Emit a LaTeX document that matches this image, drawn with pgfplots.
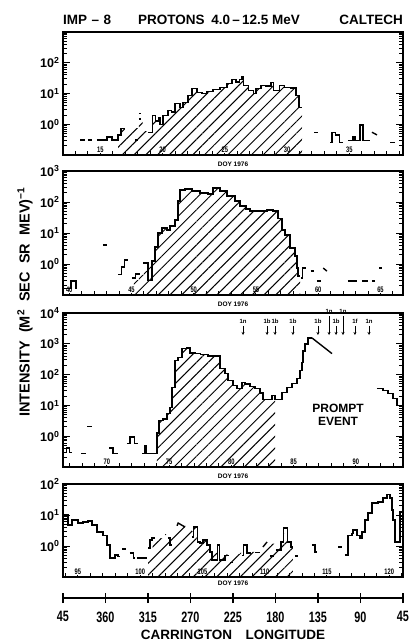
\documentclass[border=0pt]{standalone}
\usepackage{pgfplots}
\pgfplotsset{compat=1.18}
\usepackage{fontspec}
\setmainfont{Liberation Sans}
\newfontfamily\narrow{Liberation Sans}[FakeStretch=0.72]
\usetikzlibrary{patterns.meta,arrows.meta}

\pgfplotsset{
  mypanel/.style={
    scale only axis, width=340pt, ymin=0.1,
    /pgf/number format/assume math mode=true,
    axis line style={line width=1.6pt},
    xtick pos=left, ytick pos=both, yticklabel pos=left,
    tick align=inside,
    major tick length=7pt, minor tick length=4pt,
    tick style={black, line width=1pt},
    xticklabel style={font=\narrow\fontsize{8}{8}\selectfont\bfseries, anchor=south, fill=white, inner sep=1pt, yshift=1.5pt},
    yticklabel style={font=\fontsize{12.5}{13}\selectfont\bfseries},
    xlabel={DOY 1976},
    xlabel style={font=\fontsize{6.5}{7}\selectfont\bfseries, at={(axis description cs:0.5,0)}, anchor=center, yshift=-9pt},
    clip=false,
  },
  myhatch/.style={draw=none, const plot, pattern={Lines[angle=45,distance=8.3pt,line width=1pt]}, pattern color=black},
  mycurve/.style={const plot, line width=1.4pt, black},
  myseg/.style={sharp plot, line width=1.4pt, black},
}
\tikzset{flab/.style={font=\fontsize{6}{6}\selectfont\bfseries, inner sep=0pt},
  farr/.style={line width=0.8pt,-{Stealth[length=3pt,width=3pt]}}}

\begin{document}
\begin{tikzpicture}[x=1pt,y=1pt]
\useasboundingbox (0pt,0pt) rectangle (411pt,-641pt);

% ---------------- Panel 1 ----------------
\begin{semilogyaxis}[mypanel, at={(63pt,-155pt)}, anchor=south west, height=123pt,
  xmin=12.0, xmax=39.31, ymax=1000,
  xtick={15,20,25,30,35}, minor xtick={13,...,39},
  ytick={0.1,1,10,100,1000},
  yticklabels={,10\textsuperscript{0},10\textsuperscript{1},10\textsuperscript{2},}]
\addplot[myhatch] coordinates {(16.42,0.1)(16.42,0.45)(16.66,0.74)(16.98,0.6)(17.5,0.75)(18.1,1.5)(18.4,0.6)(18.85,0.55)(19.2,1.95)(19.45,1.26)(19.65,1.6)(19.8,1.0)(20.03,1.95)(20.43,2.8)(20.7,2.5)(21.0,4.8)(21.4,3.5)(21.64,5.1)(22.04,8.7)(22.36,14.5)(22.76,10.7)(23.16,10)(23.57,11.5)(24.05,13.5)(24.61,15.5)(25.17,21)(25.57,28)(25.9,24)(26.2,28)(26.38,35.5)(26.5,18.2)(26.9,12.6)(27.3,10)(27.5,14.5)(27.9,18.2)(28.3,17.8)(28.7,22.4)(28.9,12.6)(29.4,18.2)(29.8,15.8)(30.3,15)(30.7,8.7)(30.95,3.5)(31.2,3.5)(31.2,0.1)};
\addplot[mycurve] coordinates {(13.37,0.31)(13.77,0.31)};
\addplot[mycurve] coordinates {(14.0,0.31)(14.3,0.31)};
\addplot[mycurve] coordinates {(14.73,0.31)(15.53,0.38)(15.94,0.31)(16.42,0.45)(16.66,0.74)(16.98,0.74)};
\addplot[mycurve] coordinates {(17.78,0.31)(18.02,0.31)};
\addplot[mycurve] coordinates {(18.1,2.2)(18.3,2.2)};
\addplot[mycurve] coordinates {(18.1,1.5)(18.3,1.5)};
\addplot[mycurve] coordinates {(18.85,0.55)(19.2,1.95)(19.45,1.26)(19.65,1.6)(19.8,1.0)(20.03,1.95)(20.43,2.8)(20.7,2.5)(21.0,4.8)(21.4,3.5)(21.64,5.1)(22.04,8.7)(22.36,14.5)(22.76,10.7)(23.16,10)(23.57,11.5)(24.05,13.5)(24.61,15.5)(25.17,21)(25.57,28)(25.9,24)(26.2,28)(26.38,35.5)(26.5,18.2)(26.9,12.6)(27.3,10)(27.5,14.5)(27.9,18.2)(28.3,17.8)(28.7,22.4)(28.9,12.6)(29.4,18.2)(29.8,15.8)(30.3,15)(30.7,8.7)(30.95,3.5)(31.2,3.5)};
\addplot[mycurve] coordinates {(32.2,0.55)(32.45,0.55)};
\addplot[mycurve] coordinates {(33.45,0.26)(33.6,0.55)(33.9,0.45)(34.2,0.26)(34.49,0.26)};
\addplot[mycurve] coordinates {(34.89,0.3)(35.29,0.38)(35.45,0.3)(35.86,0.95)(36.1,0.3)(36.66,0.3)};
\addplot[myseg] coordinates {(36.82,0.55)(37.22,0.45)};
\addplot[mycurve] coordinates {(38.27,0.26)(38.67,0.26)};
\end{semilogyaxis}

% ---------------- Panel 2 ----------------
\begin{semilogyaxis}[mypanel, at={(63pt,-295pt)}, anchor=south west, height=124pt,
  xmin=39.5, xmax=66.81, ymax=1000,
  xtick={40,45,50,55,60,65}, minor xtick={40,...,66},
  ytick={0.1,1,10,100,1000},
  yticklabels={,10\textsuperscript{0},10\textsuperscript{1},10\textsuperscript{2},10\textsuperscript{3}}]
\addplot[myhatch] coordinates {(45.2,0.1)(45.2,0.3)(45.6,0.45)(46.0,0.6)(46.33,0.9)(46.65,1.26)(46.89,3.5)(47.13,10)(47.45,14.5)(47.85,12.6)(48.09,17)(48.5,26)(48.74,107)(48.9,245)(49.3,263)(49.86,224)(50.5,195)(51.15,182)(51.55,282)(52.11,224)(52.67,155)(53.32,107)(53.72,74)(54.2,59)(54.52,51)(55.32,51)(55.89,55)(56.37,51)(56.77,30)(57.09,12.6)(57.33,8.7)(57.73,3.3)(58.13,1.8)(58.3,0.74)(58.38,0.41)(58.54,0.41)(58.54,0.1)};
\addplot[mycurve] coordinates {(39.55,0.16)(40.15,0.28)(40.55,0.16)(40.62,0.16)};
\addplot[mycurve] coordinates {(42.71,4.1)(43.03,4.1)};
\addplot[mycurve] coordinates {(43.92,0.45)(44.2,0.8)(44.45,1.35)(44.72,1.35)};
\addplot[mycurve] coordinates {(45.04,0.35)(45.3,0.48)(45.68,0.48)};
\addplot[mycurve] coordinates {(45.93,1.07)(46.33,0.3)(46.65,1.26)(46.89,3.5)(47.13,10)(47.45,14.5)(47.85,12.6)(48.09,17)(48.5,26)(48.74,107)(48.9,245)(49.3,263)(49.86,224)(50.5,195)(51.15,182)(51.55,282)(52.11,224)(52.67,155)(53.32,107)(53.72,74)(54.2,59)(54.52,51)(55.32,51)(55.89,55)(56.37,51)(56.77,30)(57.09,12.6)(57.33,8.7)(57.73,3.3)(58.13,1.8)(58.3,0.74)(58.38,0.41)(58.54,0.41)};
\addplot[mycurve] coordinates {(58.6,0.35)(58.75,0.74)(59.0,0.74)};
\addplot[mycurve] coordinates {(59.4,0.59)(59.7,0.59)};
\addplot[mycurve] coordinates {(59.9,0.28)(60.2,0.28)};
\addplot[myseg] coordinates {(60.4,0.74)(60.7,0.59)};
\addplot[mycurve] coordinates {(62.39,0.28)(63.1,0.28)};
\addplot[mycurve] coordinates {(63.5,0.28)(64.0,0.28)};
\addplot[mycurve] coordinates {(64.3,0.28)(64.56,0.28)};
\addplot[mycurve] coordinates {(64.9,0.74)(65.1,0.74)};
\end{semilogyaxis}

% ---------------- Panel 3 ----------------
\begin{semilogyaxis}[mypanel, at={(63pt,-467pt)}, anchor=south west, height=154pt,
  xmin=66.47, xmax=93.78, ymax=10000,
  xtick={70,75,80,85,90}, minor xtick={67,...,93},
  ytick={0.1,1,10,100,1000,10000},
  yticklabels={,10\textsuperscript{0},10\textsuperscript{1},10\textsuperscript{2},10\textsuperscript{3},10\textsuperscript{4}}]
\addplot[myhatch] coordinates {(74.02,0.1)(74.02,1.26)(74.18,3.3)(74.5,3.6)(74.82,5.5)(75.06,8.7)(75.22,38)(75.47,282)(75.71,355)(76.03,690)(76.43,740)(76.67,510)(77.07,480)(77.5,440)(78.12,407)(78.52,407)(79.08,155)(79.48,107)(79.72,65)(80.12,45)(80.45,35)(80.85,55)(81.09,50)(81.49,41)(81.89,35)(82.29,25)(82.53,15.5)(83.1,15.5)(83.26,21)(83.5,21)(83.5,0.1)};
\addplot[mycurve] coordinates {(66.47,0.3)(66.75,0.42)(67.0,0.3)(67.2,0.3)};
\addplot[mycurve] coordinates {(67.92,0.28)(68.32,0.28)};
\addplot[mycurve] coordinates {(68.4,2.1)(68.8,2.1)};
\addplot[mycurve] coordinates {(70.17,0.41)(70.5,0.28)(70.89,0.28)};
\addplot[mycurve] coordinates {(71.61,0.59)(71.85,0.93)(72.2,0.59)(72.5,0.59)};
\addplot[mycurve] coordinates {(72.82,0.28)(73.0,0.51)(73.15,0.28)(74.02,1.26)(74.18,3.3)(74.5,3.6)(74.82,5.5)(75.06,8.7)(75.22,38)(75.47,282)(75.71,355)(76.03,690)(76.43,740)(76.67,510)(77.07,480)(77.5,440)(78.12,407)(78.52,407)(79.08,155)(79.48,107)(79.72,65)(80.12,45)(80.45,35)(80.85,55)(81.09,50)(81.49,41)(81.89,35)(82.29,25)(82.53,15.5)(83.1,15.5)(83.26,21)(83.5,15.5)(83.82,15.5)(84.06,26)(84.46,38)(84.86,51)(85.27,74)(85.51,135)(85.67,245)(85.75,590)(85.91,1000)(86.15,1550)(86.47,1550)};
\addplot[myseg] coordinates {(86.47,1550)(88.08,480)};
\addplot[mycurve] coordinates {(91.69,35.5)(92.17,30)(92.57,24.5)(92.98,17)(93.3,10)(93.78,10)};
% flare annotations
\node[flab] at (axis cs:80.93,5500) {1n};
\draw[farr] (axis cs:80.93,3790) -- (axis cs:80.93,1930);
\node[flab] at (axis cs:82.86,5500) {1b};
\draw[farr] (axis cs:82.86,3790) -- (axis cs:82.86,1930);
\node[flab] at (axis cs:83.5,5500) {1b};
\draw[farr] (axis cs:83.5,3790) -- (axis cs:83.5,1930);
\node[flab] at (axis cs:84.94,5500) {1b};
\draw[farr] (axis cs:84.94,3790) -- (axis cs:84.94,1930);
\node[flab] at (axis cs:86.95,5500) {1b};
\draw[farr] (axis cs:86.95,3790) -- (axis cs:86.95,1930);
\node[flab] at (axis cs:88.4,5500) {1b};
\draw[farr] (axis cs:88.4,3790) -- (axis cs:88.4,1930);
\node[flab] at (axis cs:89.92,5500) {1f};
\draw[farr] (axis cs:89.92,3790) -- (axis cs:89.92,1930);
\node[flab] at (axis cs:91.05,5500) {1n};
\draw[farr] (axis cs:91.05,3790) -- (axis cs:91.05,1930);
\node[flab] at (axis cs:87.84,11600) {1n};
\draw[farr] (axis cs:87.84,7900) -- (axis cs:87.84,1930);
\node[flab] at (axis cs:88.96,11600) {1n};
\draw[farr] (axis cs:88.96,7900) -- (axis cs:88.96,1930);
\node[font=\fontsize{12}{13}\selectfont\bfseries, align=center, inner sep=0pt] at (axis cs:88.56,4.9) {PROMPT\\EVENT};
\end{semilogyaxis}

% ---------------- Panel 4 ----------------
\begin{semilogyaxis}[mypanel, at={(63pt,-577pt)}, anchor=south west, height=93pt,
  xmin=93.8, xmax=121.11, ymax=100,
  xtick={95,100,105,110,115,120}, minor xtick={94,...,121},
  ytick={0.1,1,10,100},
  yticklabels={,10\textsuperscript{0},10\textsuperscript{1},10\textsuperscript{2}},
  xlabel style={yshift=3pt}]
\addplot[myhatch] coordinates {(100.63,0.1)(100.63,0.6)(101.0,1.5)(101.5,1.8)(102.0,2.4)(102.5,3.0)(103.0,5.0)(103.6,4.0)(104.16,3.0)(104.3,4.1)(104.6,1.35)(104.8,1.26)(105.05,1.55)(105.37,1.07)(105.61,0.65)(105.77,0.6)(106.5,0.55)(107.0,0.5)(107.5,0.55)(108.0,0.6)(108.5,0.6)(109.0,0.65)(109.5,0.75)(110.0,1.0)(110.5,1.2)(110.9,1.0)(111.3,1.35)(111.5,2.5)(111.85,1.35)(112.1,0.93)(112.27,0.93)(112.27,0.1)};
\addplot[mycurve] coordinates {(93.8,10)(94.2,4.8)(94.52,6.9)(95.0,5.5)(95.41,5.9)(95.81,6.5)(96.13,4.8)(96.53,2.8)(97.01,2.2)(97.33,1.07)(97.58,0.41)(97.98,0.51)(98.22,0.45)(98.38,0.45)};
\addplot[mycurve] coordinates {(98.54,0.8)(98.86,0.8)};
\addplot[mycurve] coordinates {(99.18,0.59)(99.45,0.41)(99.58,0.41)};
\addplot[mycurve] coordinates {(99.74,0.41)(100.55,0.41)};
\addplot[mycurve] coordinates {(100.63,0.87)(100.8,1.55)(100.95,1.82)(101.2,1.82)};
\addplot[mycurve] coordinates {(102.23,1.82)(102.4,1.07)(102.56,1.07)};
\addplot[myseg] coordinates {(102.96,4.5)(103.05,5.5)(103.6,4.1)};
\addplot[mycurve] coordinates {(104.16,1.95)(104.3,4.1)(104.6,1.35)(104.8,1.26)(105.05,1.55)(105.37,1.07)(105.61,0.65)(105.77,0.35)(106.2,1.07)(106.35,0.35)(106.8,0.5)(107.1,0.5)};
\addplot[mycurve] coordinates {(107.21,0.3)(107.45,0.3)};
\addplot[mycurve] coordinates {(108.18,0.5)(108.3,1.07)(108.58,0.59)(108.9,0.59)};
\addplot[mycurve] coordinates {(109.2,0.62)(109.6,0.62)};
\addplot[myseg] coordinates {(109.86,0.93)(110.19,1.35)};
\addplot[mycurve] coordinates {(110.45,0.48)(110.75,0.48)};
\addplot[mycurve] coordinates {(110.9,0.74)(111.3,1.35)(111.5,3.8)(111.85,1.35)(112.1,0.93)(112.3,0.93)};
\addplot[mycurve] coordinates {(112.43,0.48)(112.68,0.48)};
\addplot[mycurve] coordinates {(113.8,1.07)(114.05,0.65)(114.2,0.65)};
\addplot[mycurve] coordinates {(115.89,0.93)(116.21,0.93)};
\addplot[mycurve] coordinates {(116.45,0.51)(116.69,2.2)(117.01,2.5)(117.09,3.3)(117.41,2.2)(117.66,1.8)(117.82,2.8)(118.06,6.9)(118.3,11.5)(118.62,24.5)(119.1,26)(119.5,35.5)(119.82,45)(120.06,35.5)(120.23,14.5)(120.31,6.9)(120.47,1.35)(120.87,12.6)(121.11,12.6)};
\end{semilogyaxis}

% ---------------- Carrington longitude axis ----------------
\begin{axis}[scale only axis, width=340pt, height=10pt, at={(63pt,-598pt)}, anchor=south west,
  xmin=45, xmax=405, x dir=reverse, ymin=0, ymax=1,
  axis y line=none, axis x line*=bottom,
  axis line style={line width=1.6pt},
  xtick={45,90,135,180,225,270,315,360,405},
  xticklabels={45,90,135,180,225,270,315,360,45},
  tick align=center, major tick length=10pt,
  tick style={black, line width=1.4pt},
  xticklabel style={font=\narrow\fontsize{15}{16}\selectfont\bfseries, yshift=-5pt},
  xlabel={CARRINGTON\quad LONGITUDE},
  xlabel style={font=\fontsize{13.5}{14}\selectfont\bfseries, at={(axis description cs:0.5,0)}, anchor=center, yshift=-37pt}]
\addplot[draw=none] coordinates {(45,0)(405,0)};
\end{axis}

% ---------------- Titles ----------------
\node[font=\fontsize{13.5}{14}\selectfont\bfseries, anchor=west, inner sep=0pt] at (63pt,-20pt) {IMP\,\,–\,\,8};
\node[font=\fontsize{13.5}{14}\selectfont\bfseries, inner sep=0pt] at (219pt,-20pt) {PROTONS\,\,\,4.0\,–\,12.5 MeV};
\node[font=\fontsize{13.5}{14}\selectfont\bfseries, anchor=east, inner sep=0pt] at (403pt,-20pt) {CALTECH};
\node[font=\fontsize{14.5}{15}\selectfont\bfseries, rotate=90, inner sep=0pt] at (25pt,-302pt) {INTENSITY\ \ (M\textsuperscript{2}\ \ SEC\ \ SR\ \ MEV)\textsuperscript{−1}};
\end{tikzpicture}
\end{document}
